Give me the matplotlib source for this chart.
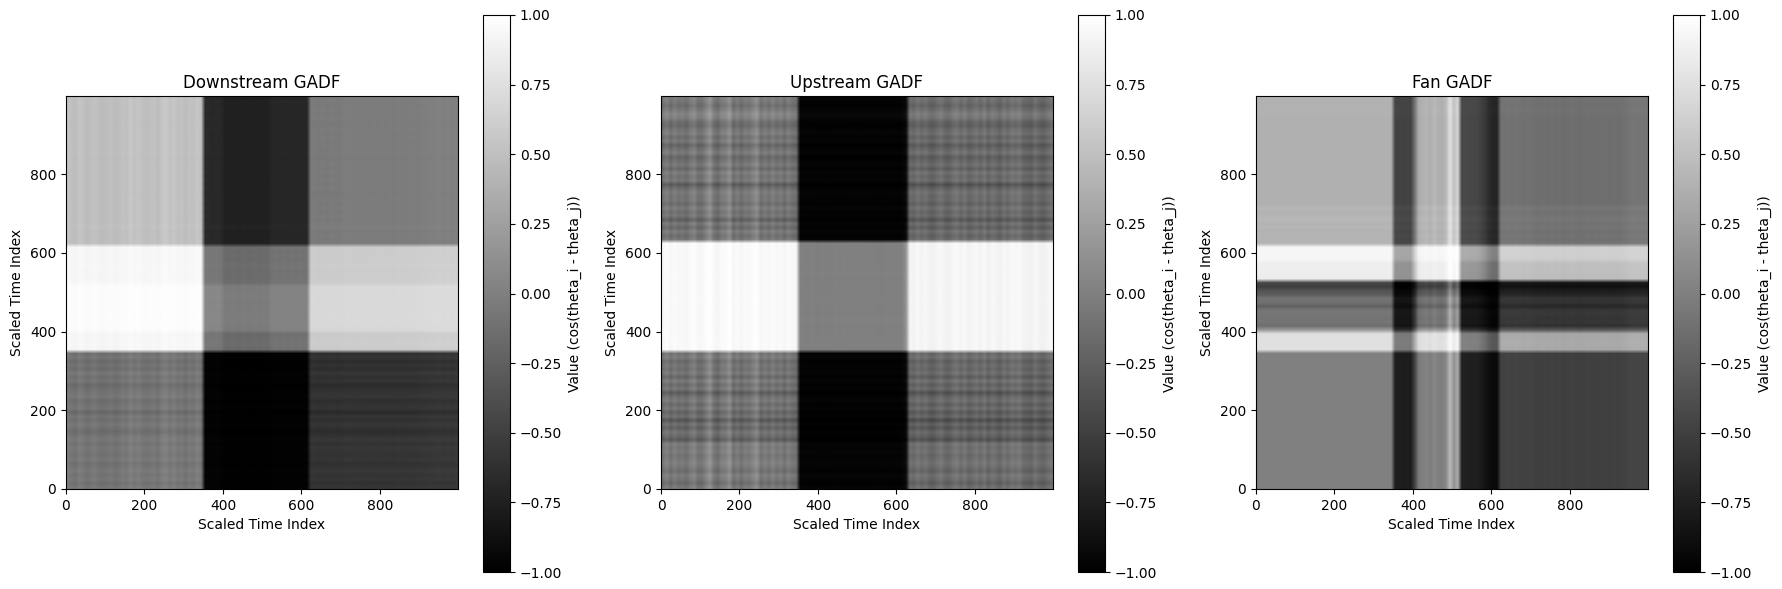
import numpy as np
import matplotlib
matplotlib.use("Agg")
import matplotlib.pyplot as plt

titles = ["Downstream GADF", "Upstream GADF", "Fan GADF"]
xlabel_text = "Scaled Time Index"
ylabel_text = "Scaled Time Index"
cbar_label = "Value (cos(theta_i - theta_j))"

# Phase angles in hundredths of a radian, one value per 10 time-index units.
down_rows = [
    -6, -11, -5, -9, -4, -8, -11, -5, -9, -7,
    -5, -10, -4, -8, -15, -10, -5, -12, -7, -18,
    -7, -9, -13, -5, -8, -11, -16, -7, -12, -5,
    -14, -9, -15, -7, -12, 118, 120, 120, 119, 118,
    132, 132, 133, 133, 133, 132, 133, 132, 133, 133,
    132, 133, 121, 120, 120, 119, 121, 120, 119, 120,
    119, 120, 53, 52, 53, 52, 54, 53, 52, 53,
    52, 53, 52, 53, 52, 52, 53, 52, 53, 52,
    53, 52, 53, 52, 52, 53, 52, 53, 52, 53,
    52, 53, 52, 52, 53, 52, 53, 52, 53, 52,
]
down_cols = [
    -4, 1, 3, -5, 0, 4, 0, -2, 3, 4,
    2, 0, 4, 2, -2, 0, -7, -1, -5, 0,
    2, 0, -2, 3, -5, -8, -1, -6, 0, -2,
    3, -2, 0, -6, -1, 126, 126, 127, 126, 127,
    136, 136, 135, 136, 136, 135, 136, 136, 135, 136,
    135, 136, 130, 129, 130, 129, 130, 129, 130, 129,
    130, 129, 56, 56, 57, 56, 57, 56, 56, 57,
    56, 55, 55, 56, 55, 56, 55, 56, 55, 56,
    55, 56, 55, 56, 55, 55, 56, 55, 55, 55,
    54, 54, 53, 53, 52, 52, 53, 52, 53, 52,
]
up_rows = [
    -5, -17, -7, -2, -14, -7, -1, -5, -9, -3,
    -7, -2, -30, -16, -9, -25, -13, -34, -11, -23,
    -7, -17, -5, -13, -29, -7, -16, -3, -20, -5,
    -13, -7, -17, -3, -10, 124, 125, 125, 125, 124,
    125, 124, 125, 125, 124, 125, 124, 125, 125, 124,
    125, 124, 125, 124, 125, 125, 124, 125, 124, 125,
    124, 125, 124, -7, -14, -3, -19, -5, -27, -7,
    -13, -3, -16, -7, -9, -3, -14, -29, -5, -11,
    -3, -18, -5, -13, -20, -3, -11, -22, -5, -14,
    -3, -9, -18, -13, 1, 4, -5, -14, -7, -3,
]
up_cols = [
    3, -7, 5, -5, 3, 0, 6, -4, -10, 5,
    3, -9, -22, 0, 8, -5, -7, -20, 5, -4,
    6, -4, 0, -10, -18, 5, -5, 3, -7, 2,
    -4, 6, -5, 3, 5, 124, 124, 125, 124, 125,
    125, 124, 125, 125, 124, 125, 124, 125, 124, 125,
    124, 125, 124, 125, 124, 125, 125, 124, 125, 124,
    125, 124, 110, 8, 12, 2, 10, 4, 13, 15,
    6, 2, 12, 14, 4, 0, 10, 1, 13, 8,
    2, 10, 0, 13, 3, 8, 15, 2, 10, 0,
    4, -1, 11, 13, 15, 4, 12, 17, 9, 3,
]
fan_rows = [
    0, 0, 0, 0, 0, 0, 0, 0, 0, 0,
    0, 0, 0, 0, 0, 0, 0, 0, 0, 0,
    0, 0, 0, 0, 0, 0, 0, 0, 0, 0,
    0, 0, 0, 0, 0, 85, 85, 86, 85, 84,
    20, -14, -8, -10, -7, -8, -24, -12, -10, -28,
    -36, -54, -46, 102, 103, 104, 104, 105, 118, 119,
    120, 119, 44, 41, 43, 41, 44, 42, 45, 43,
    41, 45, 39, 39, 39, 39, 39, 39, 39, 39,
    39, 39, 39, 39, 39, 39, 39, 39, 39, 39,
    39, 39, 39, 39, 39, 40, 41, 40, 40, 41,
]
fan_cols = [
    0, 0, 0, 0, 0, 0, 0, 0, 0, 0,
    0, 0, 0, 0, 0, 0, 0, 0, 0, 0,
    0, 0, 0, 0, 0, 0, 0, 0, 0, 0,
    0, 0, 0, 0, 0, 88, 88, 89, 88, 89,
    50, 4, 0, -3, 2, -6, 0, 2, -7, -48,
    -14, -33, 84, 84, 85, 85, 86, 92, 100, 112,
    118, 118, 50, 50, 49, 50, 49, 50, 51, 50,
    51, 53, 53, 52, 53, 52, 53, 52, 54, 53,
    52, 53, 54, 53, 52, 53, 52, 53, 52, 52,
    53, 52, 53, 52, 50, 48, 47, 48, 47, 48,
]

panel_rows = [down_rows, up_rows, fan_rows]
panel_cols = [down_cols, up_cols, fan_cols]

W, H = 1782, 589
ax_left = [66, 661, 1256]
ax_w = 392
ax_top, ax_bottom = 96, 489
cb_left = [483, 1078, 1673]
cb_w = 27
cb_top, cb_bottom = 15, 572

fig = plt.figure(figsize=(W / 100, H / 100), dpi=100)
for k in range(3):
    ax = fig.add_axes([ax_left[k] / W, (H - ax_bottom) / H, ax_w / W, (ax_bottom - ax_top) / H])
    r = np.array(panel_rows[k]) / 100.0
    c = np.array(panel_cols[k]) / 100.0
    gadf = np.sin(r[:, None] - c[None, :])
    im = ax.imshow(gadf, cmap="gray", origin="lower", vmin=-1, vmax=1,
                   extent=(0, 999, 0, 999), interpolation="bilinear", aspect="auto")
    ax.set_title(titles[k])
    ax.set_xlabel(xlabel_text)
    ax.set_ylabel(ylabel_text)
    ax.set_xticks([0, 200, 400, 600, 800])
    ax.set_yticks([0, 200, 400, 600, 800])
    cax = fig.add_axes([cb_left[k] / W, (H - cb_bottom) / H, cb_w / W, (cb_bottom - cb_top) / H])
    cb = fig.colorbar(im, cax=cax)
    cb.set_label(cbar_label)

fig.savefig("out.png", dpi=100)
